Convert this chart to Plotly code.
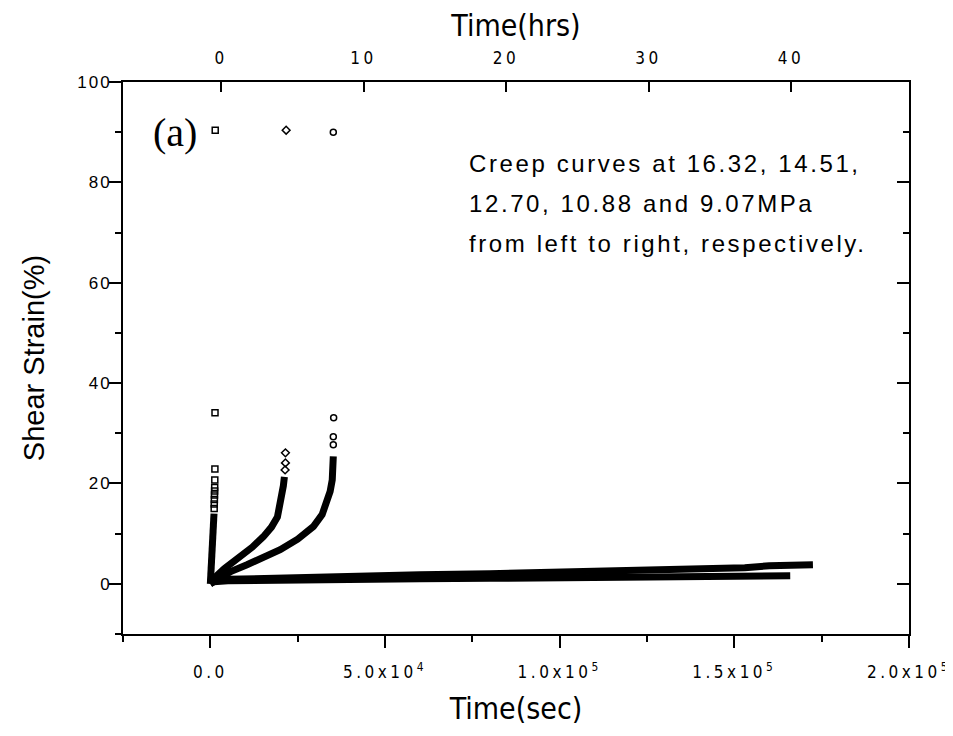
import plotly.graph_objects as go

# === Datos (tiempo en s, deformacion en %) ===
# 16.32 MPa
t1 = [0, 100, 200, 300, 400, 500, 600, 700, 800, 900, 1000, 1050]
s1 = [0, 1.5, 2.5, 3.5, 4.5, 5.5, 6.8, 8.0, 9.5, 11.0, 12.8, 14.0]
t1_tail = [1100, 1130, 1160, 1190, 1220, 1250, 1280, 1310, 1340]
s1_tail = [15.0, 15.9, 16.8, 17.7, 18.5, 19.2, 20.7, 22.9, 34.1]

# 14.51 MPa
t2 = [0, 900, 4000, 8600, 12000, 15200, 17500, 19200, 20600, 20900, 21200]
s2 = [0, 1.0, 3.0, 5.4, 7.3, 9.4, 11.3, 13.3, 17.3, 19.5, 21.3]
t2_tail = [21400, 21500, 21500]
s2_tail = [22.7, 24.1, 26.1]

# 12.70 MPa
t3 = [0, 2900, 6000, 10500, 15000, 20000, 25000, 29500, 32000, 33400, 34300, 34900, 35200]
s3 = [0, 1.4, 2.5, 3.8, 5.2, 6.8, 8.9, 11.4, 13.8, 16.1, 18.4, 20.7, 25.4]
t3_tail = [35200, 35200, 35300]
s3_tail = [27.7, 29.3, 33.1]

# 10.88 MPa
t4 = [0, 1000, 5000, 20000, 40000, 60000, 80000, 100000, 120000, 140000, 160000, 166000]
s4 = [0, 0.4, 0.6, 0.8, 0.9, 1.0, 1.1, 1.2, 1.3, 1.4, 1.5, 1.6]

# 9.07 MPa
t5 = [0, 1000, 5000, 20000, 40000, 60000, 80000, 100000, 120000, 140000, 153000, 160000, 170000, 172500]
s5 = [0, 0.6, 0.9, 1.2, 1.5, 1.8, 2.0, 2.3, 2.7, 3.0, 3.2, 3.6, 3.7, 3.8]

# puntos de rotura
t_rup = [1400, 21700, 35200]
s_rup = [90.4, 90.4, 90.0]
sym_rup = ["square-open", "diamond-open", "circle-open"]

x_ticks = [0, 50000, 100000, 150000, 200000]
x_ticktext = ["0.0", "5.0x10<sup>4</sup>", "1.0x10<sup>5</sup>",
              "1.5x10<sup>5</sup>", "2.0x10<sup>5</sup>"]

texto = ["Creep curves at 16.32, 14.51,",
         "12.70, 10.88 and 9.07MPa",
         "from left to right, respectively."]

FONT = "Liberation Sans, Arial, sans-serif"
NARROW = "Liberation Sans Narrow, DejaVu Sans Condensed, Liberation Sans, sans-serif"

fig = go.Figure()

curvas = [(t1, s1, t1_tail, s1_tail, "square-open"),
          (t2, s2, t2_tail, s2_tail, "diamond-open"),
          (t3, s3, t3_tail, s3_tail, "circle-open"),
          (t4, s4, None, None, None),
          (t5, s5, None, None, None)]

for t, s, tt, st, sym in curvas:
    fig.add_trace(go.Scatter(x=t, y=s, mode="lines",
                             line=dict(color="black", width=7),
                             showlegend=False, hoverinfo="skip"))
    if tt is not None:
        fig.add_trace(go.Scatter(x=tt, y=st, mode="markers",
                                 marker=dict(symbol=sym, size=6, color="black",
                                             line=dict(width=1.5, color="black")),
                                 showlegend=False))

for t, s, sym in zip(t_rup, s_rup, sym_rup):
    fig.add_trace(go.Scatter(x=[t], y=[s], mode="markers",
                             marker=dict(symbol=sym, size=6, color="black",
                                         line=dict(width=1.5, color="black")),
                             showlegend=False))

# traza vacia para que aparezcan los ejes secundarios
fig.add_trace(go.Scatter(x=[None], y=[None], xaxis="x2", yaxis="y2", showlegend=False))

fig.add_annotation(text="(a)", xref="paper", yref="paper", x=0.036, y=0.909,
                   xanchor="left", yanchor="middle", showarrow=False,
                   font=dict(family="Liberation Serif, Times New Roman, serif", size=40, color="black"))
for i, linea in enumerate(texto):
    fig.add_annotation(text=linea, xref="paper", yref="paper", x=0.4377, y=0.853 - i * 0.0725,
                       xanchor="left", yanchor="middle", align="left", showarrow=False,
                       font=dict(family=FONT, size=24, color="black"))

fig.update_layout(
    width=953, height=736,
    margin=dict(l=115, r=52, t=74, b=110),
    paper_bgcolor="white", plot_bgcolor="white",
    font=dict(family=FONT, color="black"),
    xaxis=dict(range=[-25000, 200000], tickmode="array", tickvals=x_ticks, ticktext=x_ticktext,
               ticks="outside", ticklen=12, tickwidth=1.5, tickcolor="black",
               minor=dict(tickmode="linear", tick0=0, dtick=25000, ticks="outside",
                          ticklen=6, tickwidth=1.5, tickcolor="black"),
               showline=True, linewidth=2, linecolor="black", showgrid=False, zeroline=False,
               tickfont=dict(family=NARROW, size=17), ticklabelstandoff=10,
               title=dict(text="Time(sec)", font=dict(family=NARROW, size=30), standoff=17)),
    xaxis2=dict(range=[-6.88, 48.28], overlaying="x", side="top", dtick=10, tick0=0,
                ticks="inside", ticklen=10, tickwidth=1.5, tickcolor="black",
                showline=True, linewidth=2, linecolor="black", showgrid=False, zeroline=False,
                tickfont=dict(family=NARROW, size=17), ticklabelstandoff=9,
                title=dict(text="Time(hrs)", font=dict(family=NARROW, size=30), standoff=4)),
    yaxis=dict(range=[-10, 100], dtick=20, tick0=0, ticks="outside", ticklen=12,
               tickwidth=1.5, tickcolor="black",
               minor=dict(dtick=10, ticks="outside", ticklen=6, tickwidth=1.5, tickcolor="black"),
               showline=True, linewidth=2, linecolor="black", showgrid=False, zeroline=False,
               tickfont=dict(family=FONT, size=17), ticklabelstandoff=-6,
               title=dict(text="Shear Strain(%)", font=dict(family=FONT, size=29), standoff=30)),
    yaxis2=dict(range=[-10, 100], overlaying="y", side="right", dtick=20, tick0=0,
                ticks="inside", ticklen=12, tickwidth=1.5, tickcolor="black",
                minor=dict(dtick=10, ticks="inside", ticklen=6, tickwidth=1.5, tickcolor="black"),
                showticklabels=False, showline=True, linewidth=2, linecolor="black",
                showgrid=False, zeroline=False),
)

# espaciado de letras como en la figura original
espaciado = """
var gd = document.getElementById('{plot_id}');
function espaciar() {
  gd.querySelectorAll('.xtick text, .x2tick text').forEach(function(e){ e.style.letterSpacing = '3.5px'; });
  gd.querySelectorAll('.ytick text').forEach(function(e){ e.style.letterSpacing = '2px'; });
  gd.querySelectorAll('.annotation-text').forEach(function(e){
    if (e.textContent !== '(a)') { e.style.letterSpacing = '2.6px'; }
  });
}
espaciar();
gd.on('plotly_afterplot', espaciar);
"""

fig.write_html("out.html", post_script=espaciado)
